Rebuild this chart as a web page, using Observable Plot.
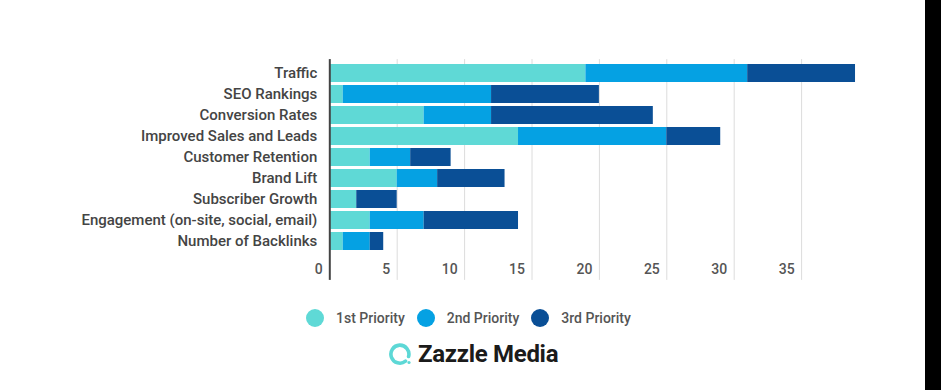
<!DOCTYPE html>
<html>
<head>
<meta charset="utf-8">
<script src="https://cdn.jsdelivr.net/npm/d3@7"></script>
<script src="https://cdn.jsdelivr.net/npm/@observablehq/plot@0.6"></script>
<style>
  html, body { margin: 0; padding: 0; background: #000; }
  #wrap { position: relative; width: 925px; height: 390px; background: #fff; overflow: hidden; font-family: Roboto, "Noto Sans", sans-serif; }
  #chart { position: absolute; left: 0; top: 0; }
  #legend { position: absolute; left: 306px; top: 309px; display: flex; align-items: center; font-size: 14px; color: #555; font-weight: 500; }
  .item { display: flex; align-items: center; margin-right: 12px; }
  .sw { width: 18px; height: 18px; border-radius: 50%; margin-right: 12px; }
  #logo { position: absolute; left: 388px; top: 340px; display: flex; align-items: center; }
  #logo span { font-size: 24px; font-weight: 700; color: #1b1b1b; letter-spacing: -0.3px; margin-left: 6px; }
</style>
</head>
<body>
<div id="wrap">
  <div id="chart"></div>
  <div id="legend"></div>
  <div id="logo">
    <svg width="24" height="24" viewBox="0 0 24 24">
      <path d="M17.5 19.2 A9 9 0 1 1 20.6 14.5" fill="none" stroke="#5dd8d6" stroke-width="3.6" stroke-linecap="round"/>
      <circle cx="21" cy="20.5" r="1.6" fill="#5dd8d6"/>
    </svg>
    <span>Zazzle Media</span>
  </div>
</div>
<script>
const categories = [
  "Traffic",
  "SEO Rankings",
  "Conversion Rates",
  "Improved Sales and Leads",
  "Customer Retention",
  "Brand Lift",
  "Subscriber Growth",
  "Engagement (on-site, social, email)",
  "Number of Backlinks"
];
const priorities = ["1st Priority", "2nd Priority", "3rd Priority"];
const first  = [19, 1, 7, 14, 3, 5, 2, 3, 1];
const second = [12, 11, 5, 11, 3, 3, 0, 4, 2];
const third  = [8, 8, 12, 4, 3, 5, 3, 7, 1];
const colors = ["#5fd9d6", "#05a1e3", "#0a4f96"];
const xTicks = [0, 5, 10, 15, 20, 25, 30, 35];
const gridTicks = [5, 10, 15, 20, 25, 30, 35];

const series = [first, second, third];
const data = [];
priorities.forEach((p, i) => {
  categories.forEach((c, j) => {
    if (series[i][j] > 0) data.push({category: c, priority: p, value: series[i][j]});
  });
});

const chart = Plot.plot({
  width: 925,
  height: 290,
  marginLeft: 329.3,
  marginRight: 56.5,
  marginTop: 59.1,
  marginBottom: 34.1,
  style: {fontFamily: "Roboto, 'Noto Sans', sans-serif", fontSize: "14px", fontWeight: 500, color: "#444", background: "transparent"},
  x: {domain: [0, 40]},
  y: {domain: categories, padding: 0.12},
  color: {domain: priorities, range: colors},
  marks: [
    Plot.ruleX(gridTicks, {stroke: "#dcdcdc", strokeWidth: 1, insetBottom: -24}),
    Plot.barX(data, {y: "category", x: "value", fill: "priority"}),
    Plot.ruleX([0], {stroke: "#444", strokeWidth: 2, insetBottom: -24}),
    Plot.axisY({tickSize: 0, tickPadding: 12.5, label: null, fontSize: 15}),
    Plot.axisX({ticks: xTicks, tickSize: 0, tickPadding: 8, textAnchor: "end", dx: -7, label: null, fill: "#555"})
  ]
});
document.getElementById("chart").appendChild(chart);

const legend = document.getElementById("legend");
priorities.forEach((p, i) => {
  const item = document.createElement("div");
  item.className = "item";
  const sw = document.createElement("div");
  sw.className = "sw";
  sw.style.background = colors[i];
  const lab = document.createElement("span");
  lab.textContent = p;
  item.appendChild(sw);
  item.appendChild(lab);
  legend.appendChild(item);
});
</script>
</body>
</html>
